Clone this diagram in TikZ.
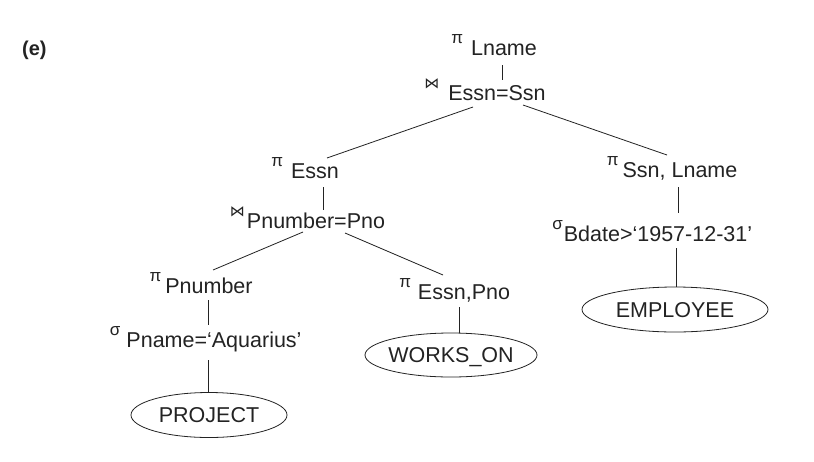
\documentclass[tikz,border=0pt]{standalone}
\usepackage{fontspec}
\setmainfont{Liberation Sans}
\newfontfamily\djvfont{DejaVu Sans}
\usetikzlibrary{shapes.geometric,calc}
\definecolor{ink}{RGB}{35,35,35}
% operator symbol hanging left of its subscript text
\newcommand{\opsym}[3]{\makebox[0pt][r]{\raisebox{12pt}{\fontsize{17}{17}\selectfont #1}\hspace{#2pt}}#3}
\newcommand{\PI}{π}
\newcommand{\SIG}{σ}
\newcommand{\JOIN}{{\djvfont\fontsize{15}{15}\selectfont ⋈}}
\newcommand{\reltext}[1]{\makebox[0pt]{\raisebox{0pt}[\height][0pt]{#1}}}
\begin{document}
\begin{tikzpicture}[x=1pt,y=-1pt,
  every node/.style={inner sep=0pt, text=ink, font=\fontsize{21.5}{24}\selectfont},
  op/.style={anchor=base},
  rel/.style={draw=ink, ellipse, line width=0.8pt, anchor=center},
  edge/.style={draw=ink, line width=0.8pt}]
\useasboundingbox (0,0) rectangle (814,461);
\fill[white] (0,0) rectangle (814,461);

\node[anchor=base west, font=\bfseries\fontsize{20}{22}\selectfont] (lbl) at (22,55) {(e)};

\node[op] (lname)    at (504,55)  {\opsym{\PI}{8}{Lname}};
\node[op] (essnssn)  at (497,100) {\opsym{\JOIN}{9}{Essn=Ssn}};
\node[op] (essn)     at (315,178) {\opsym{\PI}{8}{Essn}};
\node[op] (pnpno)    at (316,228) {\opsym{\JOIN}{2}{Pnumber=Pno}};
\node[op] (pnumber)  at (209,293) {\opsym{\PI}{4}{Pnumber}};
\node[op] (aquarius) at (214,347) {\opsym{\SIG}{6}{Pname=‘Aquarius’}};
\node[op] (essnpno)  at (464,299) {\opsym{\PI}{7}{Essn,Pno}};
\node[op] (ssnlname) at (680,177) {\opsym{\PI}{4}{Ssn, Lname}};
\node[op] (bdate)    at (658,241) {\opsym{\SIG}{1}{Bdate>‘1957-12-31’}};

\node[rel, minimum width=156pt, minimum height=45pt] (project)  at (209,415)   {\reltext{PROJECT}};
\node[rel, minimum width=172pt, minimum height=44pt] (workson)  at (451,355)   {\reltext{WORKS\_ON}};
\node[rel, minimum width=186pt, minimum height=45pt] (employee) at (675,309.5) {\reltext{EMPLOYEE}};

\draw[edge] ($(lname.base)+(-2,10)$) -- ($(essnssn.base)+(5,-20)$);
\draw[edge] ($(essnssn.base)+(-24,7)$) -- ($(essn.base)+(12,-20)$);
\draw[edge] ($(essnssn.base)+(26,5)$) -- ($(ssnlname.base)+(-13,-22)$);
\draw[edge] ($(essn.base)+(8,9)$) -- ($(pnpno.base)+(7,-18)$);
\draw[edge] ($(pnpno.base)+(-13,4)$) -- ($(pnumber.base)+(4,-23)$);
\draw[edge] ($(pnpno.base)+(29,5)$) -- ($(essnpno.base)+(-21,-24)$);
\draw[edge] ($(pnumber.base)+(-1,7)$) -- ($(aquarius.base)+(-6,-22)$);
\draw[edge] ($(aquarius.base)+(-6,13)$) -- ($(project.north)+(-1,0)$);
\draw[edge] ($(essnpno.base)+(-5,8)$) -- ($(workson.north)+(8,0.3)$);
\draw[edge] ($(ssnlname.base)+(-2,10)$) -- ($(bdate.base)+(20,-28)$);
\draw[edge] ($(bdate.base)+(18,7)$) -- ($(employee.north)+(1,0)$);
\end{tikzpicture}
\end{document}
